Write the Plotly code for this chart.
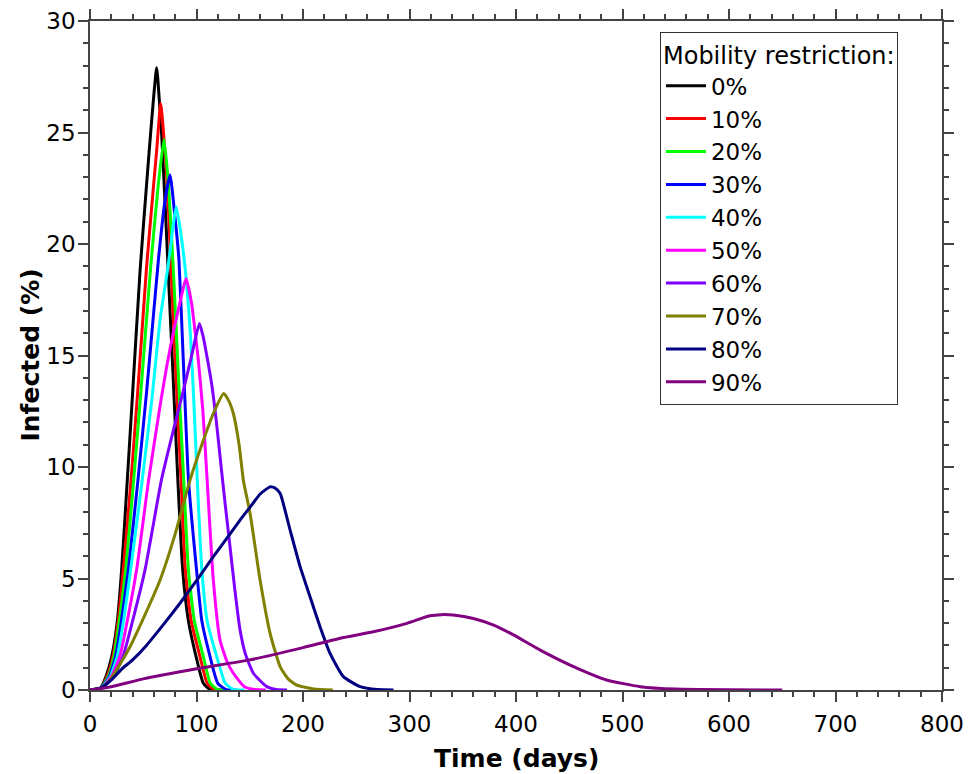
import plotly.graph_objects as go

# Mobility restriction levels (legend labels) and colours
LABELS = ["0%", "10%", "20%", "30%", "40%", "50%", "60%", "70%", "80%", "90%"]
COLORS = ["#000000", "#FF0000", "#00FF00", "#0000FF", "#00FFFF",
          "#FF00FF", "#8000FF", "#808000", "#000080", "#800080"]

# Time (days) and infected (%), one pair of arrays per curve
T_00 = [0, 10, 15, 20.4, 25.7, 29.7, 35, 40, 47, 53, 58, 62.6, 65, 67.3, 71.4, 74, 78, 82.5, 87, 92.4, 99.6, 106.4, 113, 125]
I_00 = [0, 0.1, 0.6, 1.5, 3.1, 5.4, 9.4, 13.3, 18.8, 22.6, 25.6, 27.9, 26.5, 24.9, 20.9, 18.2, 14.1, 9.4, 5.4, 3.1, 1.5, 0.3, 0.02, 0]

T_10 = [0, 10, 16, 21.5, 26.5, 31.3, 38.5, 45, 53, 58, 62.6, 66.4, 69, 72.6, 76, 80.5, 85.5, 89.5, 95, 103.3, 110, 117, 128]
I_10 = [0, 0.08, 0.6, 1.5, 3.1, 5.4, 9.4, 13.5, 18.9, 21.7, 24.2, 26.3, 25.0, 22.7, 19.0, 14.3, 9.4, 5.4, 3.1, 1.5, 0.3, 0.02, 0]

T_20 = [0, 10, 17, 22.5, 27.5, 33.5, 41, 48, 57, 64.2, 69.5, 73.6, 78.3, 83, 88, 92.4, 98, 106.4, 113, 120, 130]
I_20 = [0, 0.07, 0.6, 1.5, 3.1, 5.4, 9.4, 13.5, 19.0, 22.7, 24.7, 22.7, 18.8, 14.1, 9.4, 5.4, 3.1, 1.5, 0.3, 0.02, 0]

T_30 = [0, 10, 18, 24, 29.5, 36, 45, 53, 59, 64.2, 70, 75.1, 79.8, 83.5, 88, 92.5, 100, 105, 112.7, 120, 128, 138]
I_30 = [0, 0.06, 0.6, 1.5, 3.1, 5.4, 9.4, 13.3, 16.5, 19.27, 21.8, 23.1, 21.2, 19.3, 14.3, 9.4, 5.4, 3.1, 1.5, 0.3, 0.02, 0]

T_40 = [0, 10, 19, 25.5, 31.5, 38.2, 49, 58, 65.8, 73.6, 81, 86.1, 90.8, 94.5, 98, 101.5, 105, 110, 119, 127, 135, 145]
I_40 = [0, 0.05, 0.6, 1.5, 3.1, 5.4, 9.4, 13, 16.6, 19.1, 21.66, 20.2, 18.2, 15.8, 12.4, 8.6, 5.4, 3.1, 1.5, 0.3, 0.02, 0]

T_50 = [0, 10, 20, 28, 35, 43.8, 55, 66, 72, 78.5, 86, 90.2, 95.5, 98.6, 101.7, 106, 110, 115.8, 122.1, 128.4, 134.6, 145, 155, 165]
I_50 = [0, 0.04, 0.6, 1.5, 3.1, 5.4, 9.4, 12.8, 14.5, 16.1, 17.7, 18.45, 17.3, 16.1, 14.8, 12.5, 9.4, 4.93, 2.24, 1.3, 0.75, 0.15, 0.02, 0]

T_60 = [0, 10, 22, 31, 40, 51.7, 67, 77, 87, 95, 102.7, 106, 110, 114.3, 118.5, 122.5, 127, 131.5, 136, 140.9, 146, 153.4, 166, 175, 185]
I_60 = [0, 0.03, 0.6, 1.5, 3.1, 5.4, 9.4, 11.4, 13.3, 14.9, 16.43, 15.9, 14.9, 13.7, 12.1, 10.3, 8.3, 6.42, 4.5, 2.69, 1.6, 0.75, 0.15, 0.02, 0]

T_70 = [0, 10, 18.8, 30, 37.6, 50, 65.8, 80, 93.9, 105, 115.8, 125.5, 130, 134.6, 140, 144, 150.3, 159.7, 169.1, 178.5, 186, 194.2, 210, 228]
I_70 = [0, 0.05, 0.45, 1.3, 1.94, 3.2, 4.93, 7.0, 9.41, 11.0, 12.4, 13.3, 13.0, 12.4, 11.0, 9.41, 7.92, 4.93, 2.54, 1.05, 0.5, 0.22, 0.05, 0]

T_80 = [0, 10, 20, 30, 40, 53, 70, 84.5, 100, 115.8, 128.4, 140.9, 150.3, 160, 169.1, 174, 178.5, 187.9, 197.3, 206.6, 216, 225.4, 237.9, 253.6, 270, 285]
I_80 = [0, 0.08, 0.45, 0.95, 1.35, 2.0, 3.0, 3.89, 4.9, 5.98, 6.8, 7.62, 8.2, 8.8, 9.11, 9.05, 8.82, 7.17, 5.53, 4.18, 2.84, 1.64, 0.6, 0.15, 0.02, 0]

T_90 = [0, 20, 50, 100, 150, 200, 235, 266, 297.5, 319, 330, 341, 360, 379, 397.6, 422.7, 454, 485, 516.6, 550, 600, 650]
I_90 = [0, 0.15, 0.5, 0.95, 1.35, 1.9, 2.32, 2.61, 2.99, 3.33, 3.38, 3.36, 3.21, 2.91, 2.47, 1.79, 1.05, 0.45, 0.15, 0.04, 0.01, 0]

TIMES = [T_00, T_10, T_20, T_30, T_40, T_50, T_60, T_70, T_80, T_90]
INFECTED = [I_00, I_10, I_20, I_30, I_40, I_50, I_60, I_70, I_80, I_90]

FONT = "DejaVu Sans"
AXIS_COLOR = "#444444"

fig = go.Figure()
for lab, col, t, y in zip(LABELS, COLORS, TIMES, INFECTED):
    fig.add_trace(go.Scatter(x=t, y=y, mode="lines", name=lab,
                             line=dict(color=col, width=3, shape="spline", smoothing=0.5)))

axis_common = dict(
    showline=True, linecolor=AXIS_COLOR, linewidth=1.5, mirror="allticks",
    ticks="outside", ticklen=10, tickwidth=1.5, tickcolor=AXIS_COLOR,
    showgrid=False, zeroline=False, automargin=False,
    tickfont=dict(family=FONT, size=23, color="black"),
)

fig.update_xaxes(range=[0, 800], tick0=0, dtick=100, ticklabelstandoff=3,
                 minor=dict(dtick=20, ticks="outside", ticklen=5,
                            tickwidth=1.5, tickcolor=AXIS_COLOR),
                 **axis_common)
fig.update_yaxes(range=[0, 30], tick0=0, dtick=5, ticklabelstandoff=-2,
                 minor=dict(dtick=1, ticks="outside", ticklen=5,
                            tickwidth=1.5, tickcolor=AXIS_COLOR),
                 **axis_common)

fig.add_annotation(text="<b>Time (days)</b>", xref="paper", yref="paper",
                   x=0.5, y=0, xanchor="center", yanchor="middle", yshift=-68,
                   showarrow=False, font=dict(family=FONT, size=25, color="black"))
fig.add_annotation(text="<b>Infected (%)</b>", xref="paper", yref="paper",
                   x=0, y=0.5, xanchor="center", yanchor="middle", xshift=-60,
                   textangle=-90, showarrow=False,
                   font=dict(family=FONT, size=25, color="black"))

fig.update_layout(
    width=968, height=766,
    margin=dict(l=82, r=34, t=13, b=84),
    plot_bgcolor="white", paper_bgcolor="white",
    font=dict(family=FONT, size=23, color="black"),
    legend=dict(
        title=dict(text="Mobility restriction:", font=dict(family=FONT, size=24)),
        x=0.669, y=0.9835, xanchor="left", yanchor="top",
        bgcolor="white", bordercolor="#333333", borderwidth=1,
        font=dict(family=FONT, size=23, color="black"),
        itemwidth=40,
    ),
    showlegend=True,
)

fig.write_html("out.html")
